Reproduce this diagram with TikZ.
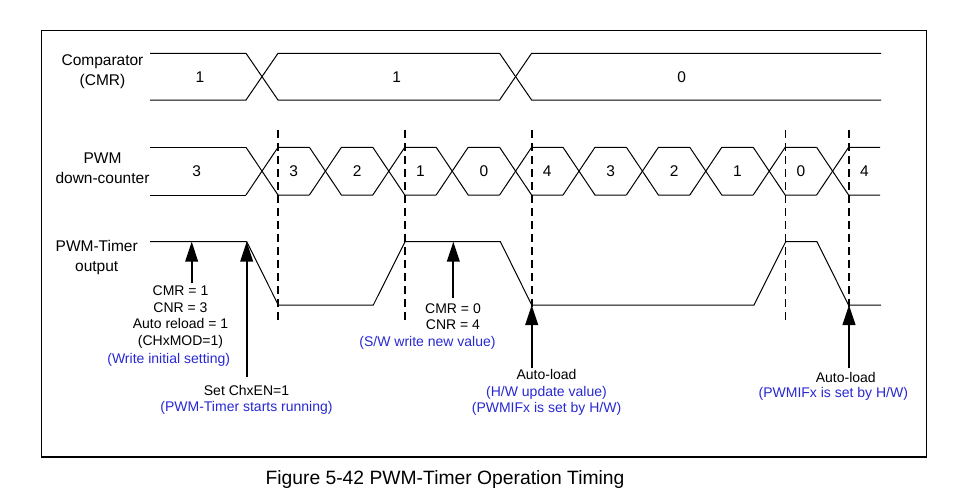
\documentclass[tikz,border=0pt]{standalone}
\usepackage{fontspec}
\setmainfont{Liberation Sans}
\usetikzlibrary{arrows.meta}
\definecolor{noteblue}{RGB}{40,40,210}
\tikzset{
  wave/.style={line width=1pt},
  cutline/.style={line width=1.8pt, dash pattern=on 8pt off 5pt},
  uparrow/.style={line width=1.8pt, -{Triangle[width=12.7pt,length=20pt]}},
  rowlabel/.style={font=\fontsize{15.5}{20}\selectfont, align=center},
  note/.style={font=\fontsize{14}{16.5}\selectfont, align=center, inner sep=0pt},
  bluenote/.style={note, text=noteblue},
}
\begin{document}
\begin{tikzpicture}[x=1pt,y=-1pt]
  \useasboundingbox (0,0) rectangle (953,499);
  \draw[line width=1.3pt] (41.7,30.7) rectangle (926.7,457);

  % signal names
  \node[rowlabel] (cmpname) at (102.5,71.7) {Comparator\\(CMR)};
  \node[rowlabel] (cntname) at (102.5,168.3) {PWM\\down-counter};
  \node[rowlabel] (outname) at (96.7,257.5) {PWM-Timer\\output};

  % comparator
  \draw[wave] (150,53.3)--(246,53.3)--(278,100)--(499.6,100)--(531.6,53.3)--(881,53.3);
  \draw[wave] (150,100)--(246,100)--(278,53.3)--(499.6,53.3)--(531.6,100)--(881,100);
  \node[rowlabel] (cmpa) at (200,76.7) {1};
  \node[rowlabel] (cmpb) at (396.7,76.7) {1};
  \node[rowlabel] (cmpc) at (681.7,76.7) {0};

  % down-counter
  \draw[wave] (150,147.3)--(246,147.3);
  \draw[wave] (150,195)--(246,195);
  \foreach \k in {0,...,9} {
    \pgfmathsetmacro{\c}{262+63.4*\k}
    \draw[wave] (\c-16,147.3)--(\c+16,195)--(\c+47.4,195);
    \draw[wave] (\c-16,195)--(\c+16,147.3)--(\c+47.4,147.3);
  }
  \node[rowlabel] (cnt) at (196.7,171) {3};
  \foreach \v [count=\k from 0] in {3,2,1,0,4,3,2,1,0,4}
    \node[rowlabel] (cnt\k) at (293.7+63.4*\k,171) {\v};

  % timer output
  \draw[wave] (150,241.7)--(246.7,241.7)--(278.3,305)--(373.3,305)--(405,241.7)
    --(500.4,241.7)--(531.7,305)--(754,305)--(785.7,241.7)--(817,241.7)
    --(848.5,305)--(881,305);

  \foreach \x in {278.3,404.8,531.6,785.4,848.6}
    \draw[cutline] (\x,130)--(\x,320);

  % notes
  \node[note] (init) at (180.5,317.3) {CMR = 1\\CNR = 3\\Auto reload = 1\\(CHxMOD=1)};
  \node[bluenote] (initb) at (168.7,360) {(Write initial setting)};
  \node[note] (start) at (246.5,399.7) {Set ChxEN=1\\\textcolor{noteblue}{(PWM-Timer starts running)}};
  \node[note] (neww) at (453,316.7) {CMR = 0\\CNR = 4};
  \node[bluenote] (newb) at (427.5,343.3) {(S/W write new value)};
  \node[note] (loada) at (546.5,392.6) {Auto-load\\\textcolor{noteblue}{(H/W update value)}\\\textcolor{noteblue}{(PWMIFx is set by H/W)}};
  \node[note] (loadb) at (845.8,377.3) {Auto-load};
  \node[bluenote] (loadbb) at (833.3,394.3) {(PWMIFx is set by H/W)};

  \coordinate (initfoot) at (191.7,283);   \coordinate (inittip) at (191.7,241.7);
  \coordinate (startfoot) at (246.7,376.7); \coordinate (starttip) at (246.7,241.7);
  \coordinate (newfoot) at (453.3,298);    \coordinate (newtip) at (453.3,241.7);
  \coordinate (loadafoot) at (531.7,368);  \coordinate (loadatip) at (531.7,305);
  \coordinate (loadbfoot) at (849,368);    \coordinate (loadbtip) at (849,305);
  \draw[uparrow] (initfoot)--(inittip);
  \draw[uparrow] (startfoot)--(starttip);
  \draw[uparrow] (newfoot)--(newtip);
  \draw[uparrow] (loadafoot)--(loadatip);
  \draw[uparrow] (loadbfoot)--(loadbtip);

  \node[font=\fontsize{19.3}{22}\selectfont] (caption) at (445,480)
    {Figure 5-42 PWM-Timer Operation Timing};
\end{tikzpicture}
\end{document}
